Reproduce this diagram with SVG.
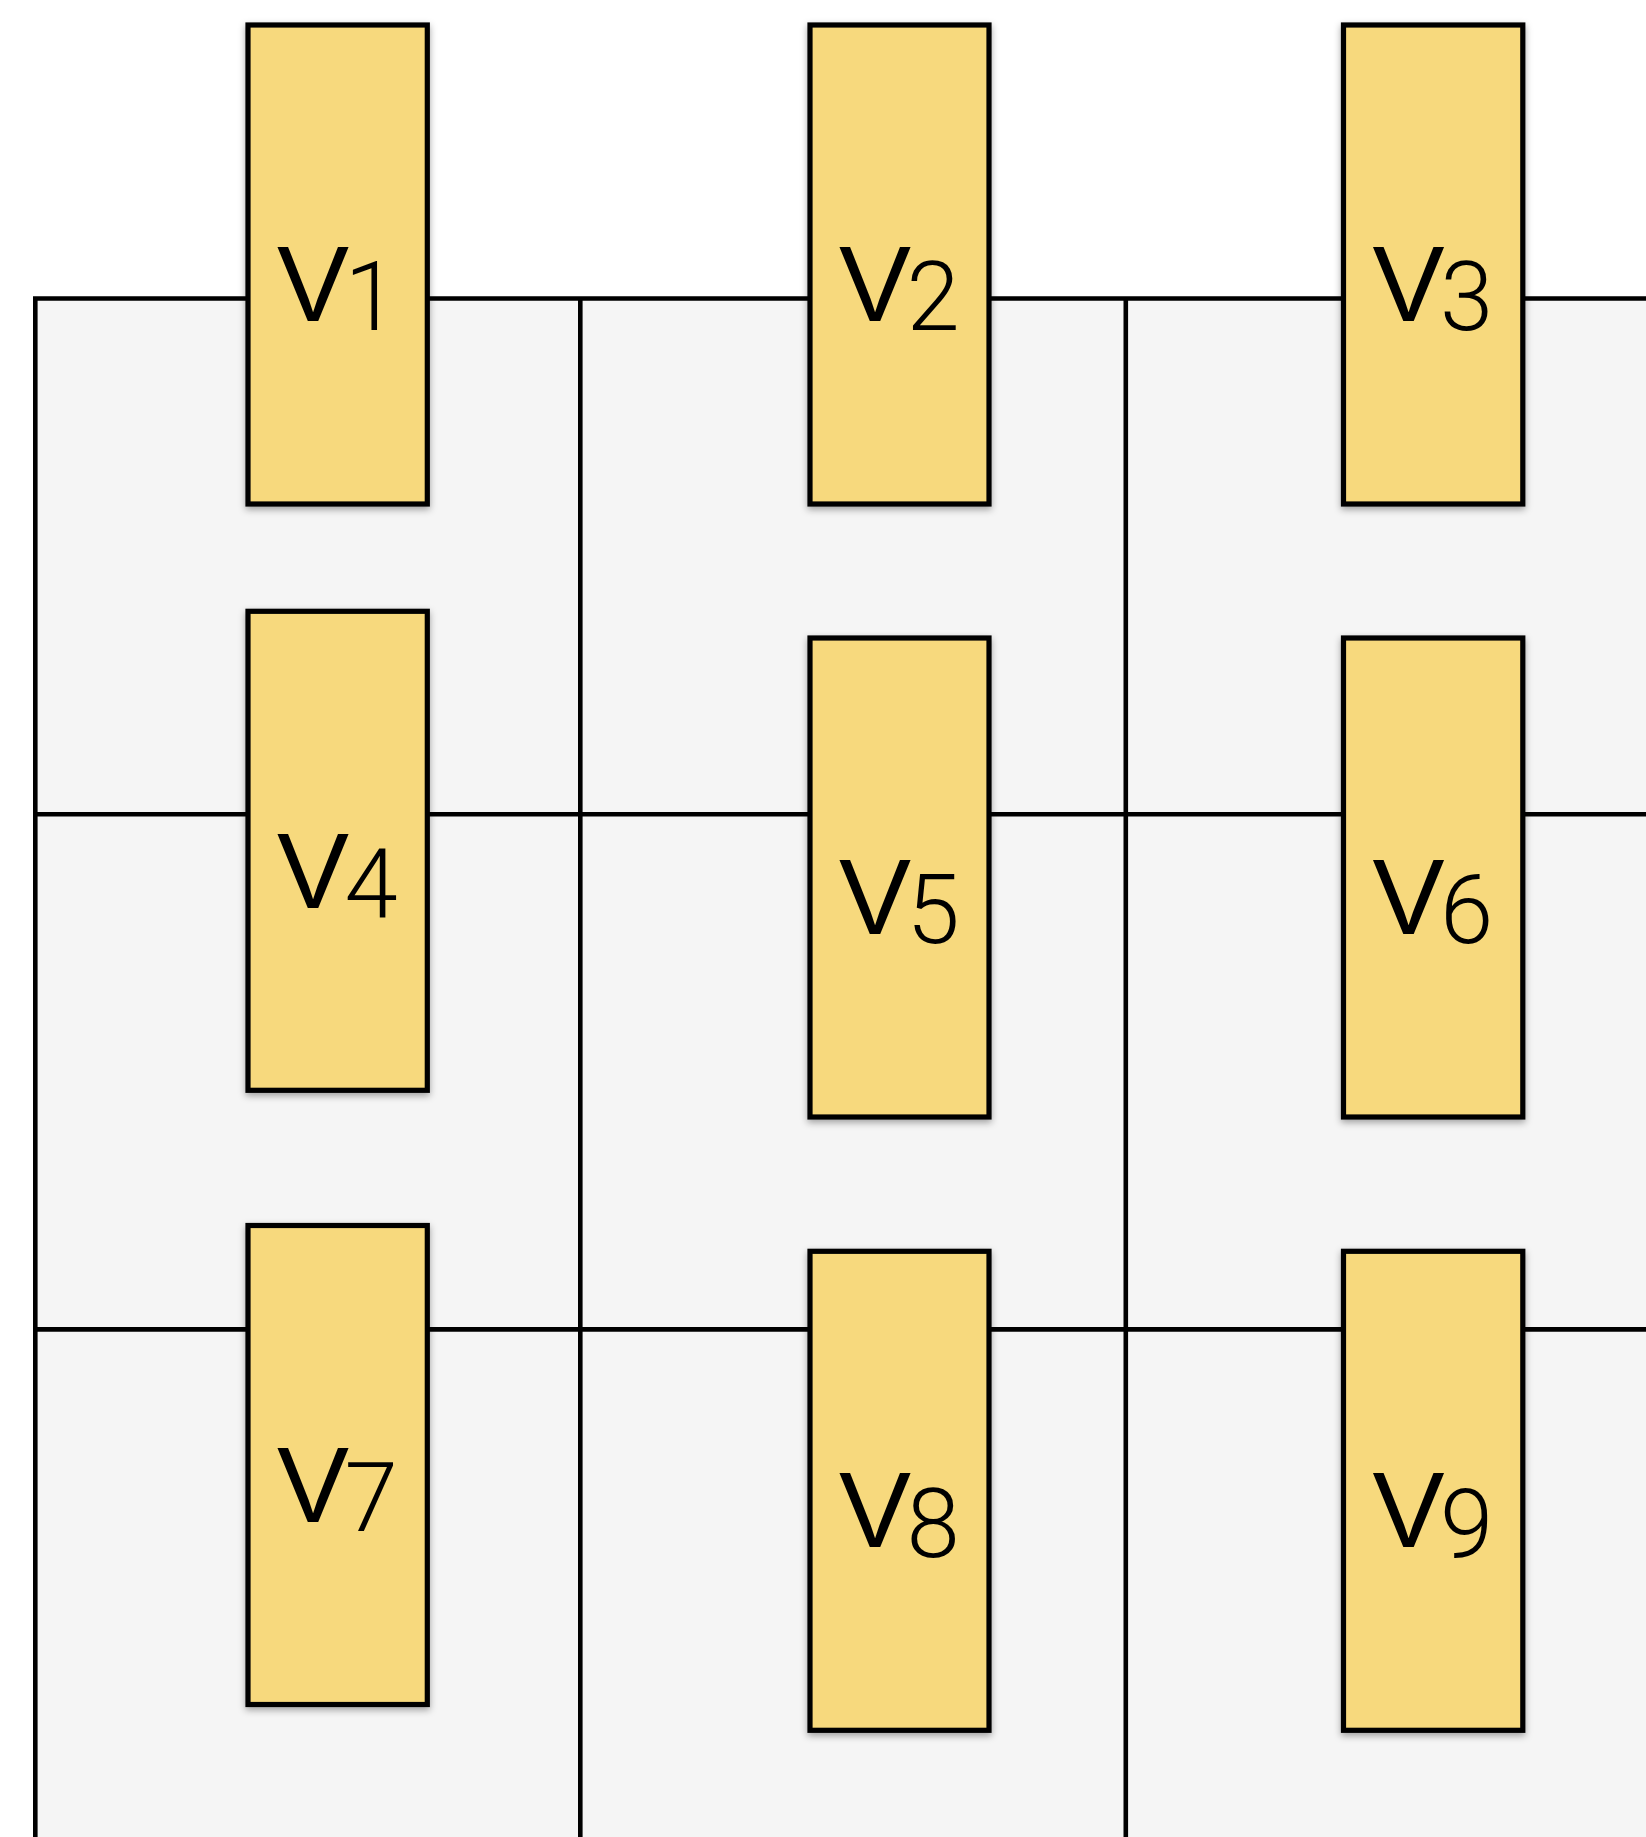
<svg xmlns="http://www.w3.org/2000/svg" width="1646" height="1837" viewBox="0 0 1646 1837">
  <defs>
    <filter id="shadow" x="-20%" y="-10%" width="140%" height="125%">
      <feDropShadow dx="0" dy="3" stdDeviation="3.5" flood-color="#000" flood-opacity="0.35"/>
    </filter>
    <style>
      .grid { fill: none; stroke: #000; stroke-width: 4.6; stroke-linecap: butt; stroke-linejoin: miter; }
      .box { fill: #f7d97d; stroke: #000; stroke-width: 5.2; filter: url(#shadow); }
      .v { font-family: "Liberation Sans", Arial, sans-serif; font-size: 108px; fill: #000; }
      .d { font-family: Roboto, "Liberation Sans", sans-serif; font-weight: 300; font-size: 96px; fill: #000; }
    </style>
  </defs>
  <rect x="0" y="0" width="1646" height="1837" fill="#ffffff"/>
  <rect x="35.3" y="298.5" width="1610.7" height="1538.5" fill="#f5f5f5"/>
  <g id="connectors">
    <path class="grid" d="M35.3,1837 V298.5 H1646"/>
    <path class="grid" d="M580.3,298.5 V1837"/>
    <path class="grid" d="M1125.8,298.5 V1837"/>
    <path class="grid" d="M35.3,814.2 H1646"/>
    <path class="grid" d="M35.3,1329.4 H1646"/>
  </g>
  <g id="V1">
    <rect class="box" x="248" y="25" width="179.3" height="479"/>
    <text class="v" x="277" y="320.7">V</text><text class="d" x="344.5" y="330">1</text>
  </g>
  <g id="V2">
    <rect class="box" x="810" y="25" width="179" height="479"/>
    <text class="v" x="839" y="320.7">V</text><text class="d" x="906.5" y="330">2</text>
  </g>
  <g id="V3">
    <rect class="box" x="1343.5" y="25" width="179.3" height="479"/>
    <text class="v" x="1372.5" y="320.7">V</text><text class="d" x="1440" y="330">3</text>
  </g>
  <g id="V4">
    <rect class="box" x="248" y="611.3" width="179.3" height="479"/>
    <text class="v" x="277" y="907.5">V</text><text class="d" x="344.5" y="916.5">4</text>
  </g>
  <g id="V5">
    <rect class="box" x="810" y="638" width="179" height="479"/>
    <text class="v" x="839" y="933.5">V</text><text class="d" x="906.5" y="943">5</text>
  </g>
  <g id="V6">
    <rect class="box" x="1343.5" y="638" width="179.3" height="479"/>
    <text class="v" x="1372.5" y="933.5">V</text><text class="d" x="1440" y="943">6</text>
  </g>
  <g id="V7">
    <rect class="box" x="248" y="1225.5" width="179.3" height="479"/>
    <text class="v" x="277" y="1521.5">V</text><text class="d" x="344.5" y="1531">7</text>
  </g>
  <g id="V8">
    <rect class="box" x="810" y="1251.3" width="179" height="479"/>
    <text class="v" x="839" y="1547.3">V</text><text class="d" x="906.5" y="1556.5">8</text>
  </g>
  <g id="V9">
    <rect class="box" x="1343.5" y="1251.3" width="179.3" height="479"/>
    <text class="v" x="1372.5" y="1547.3">V</text><text class="d" x="1440" y="1556.5">9</text>
  </g>
</svg>
